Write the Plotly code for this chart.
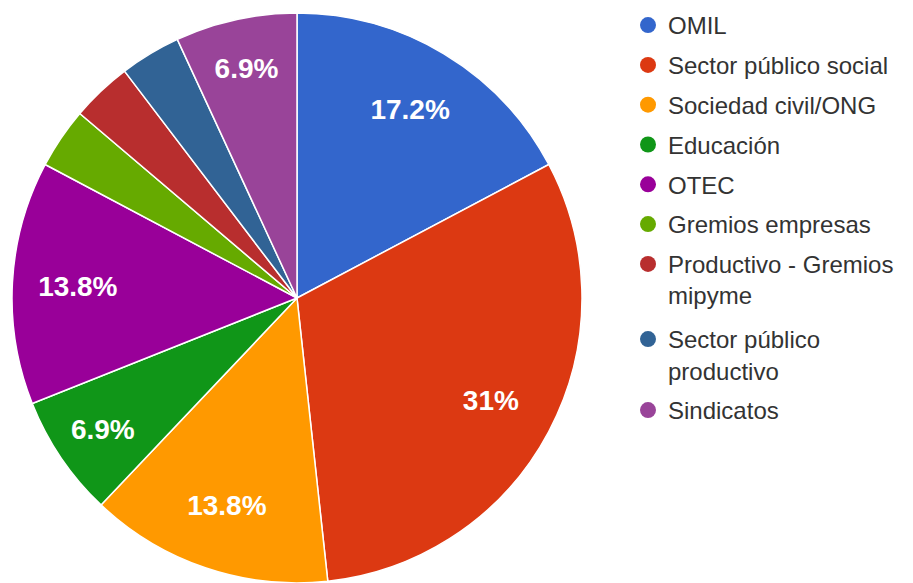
import plotly.graph_objects as go

categories = ["OMIL", "Sector público social", "Sociedad civil/ONG", "Educación", "OTEC",
              "Gremios empresas", "Productivo - Gremios<br>mipyme", "Sector público<br>productivo",
              "Sindicatos"]
counts = [5, 9, 4, 2, 4, 1, 1, 1, 2]
colors = ["#3366cc", "#dc3912", "#ff9900", "#109618", "#990099",
          "#66aa00", "#b82e2e", "#316395", "#994499"]
show_label = [True, True, True, True, True, False, False, False, True]
legend_ids = ["legend"] * 7 + ["legend2"] * 2

FONT = "Liberation Sans, Arial, sans-serif"
PIE_DOMAIN = dict(x=[0.00438, 0.62870], y=[0.01372, 0.99142])

fig = go.Figure()
# coloured slices
fig.add_trace(go.Pie(
    labels=categories,
    values=counts,
    sort=False,
    direction="clockwise",
    rotation=0,
    marker=dict(colors=colors, line=dict(color="white", width=1.5)),
    textinfo="none",
    showlegend=False,
    domain=PIE_DOMAIN,
    hoverinfo="label+percent",
))
# transparent ring carrying the percentage labels (places them at ~0.77 r)
fig.add_trace(go.Pie(
    labels=categories,
    values=counts,
    sort=False,
    direction="clockwise",
    rotation=0,
    hole=0.54,
    marker=dict(colors=["rgba(0,0,0,0)"] * len(counts), line=dict(width=0)),
    texttemplate=["%{percent}" if s else "" for s in show_label],
    textposition="inside",
    insidetextorientation="horizontal",
    insidetextfont=dict(color="white", size=28, family=FONT, weight="bold"),
    showlegend=False,
    domain=PIE_DOMAIN,
    hoverinfo="skip",
))

for i, (cat, col, lg) in enumerate(zip(categories, colors, legend_ids)):
    fig.add_trace(go.Scatter(
        x=[None], y=[None], mode="markers", name=cat,
        marker=dict(color=col, size=18, symbol="circle"),
        legendgroup=f"g{i}", showlegend=True, legend=lg,
    ))

legend_style = dict(
    xanchor="left", yanchor="top", maxheight=583,
    font=dict(size=24, color="#333333", family=FONT),
    tracegroupgap=5.6, valign="top", itemclick=False,
    bgcolor="rgba(0,0,0,0)",
)

fig.update_layout(
    width=913, height=583,
    margin=dict(l=0, r=0, t=0, b=0, autoexpand=False),
    paper_bgcolor="white", plot_bgcolor="white",
    xaxis=dict(visible=False), yaxis=dict(visible=False),
    legend=dict(x=620 / 913, y=1.0086, **legend_style),
    legend2=dict(x=620 / 913, y=0.470, **legend_style),
)

fig.write_html("out.html")
